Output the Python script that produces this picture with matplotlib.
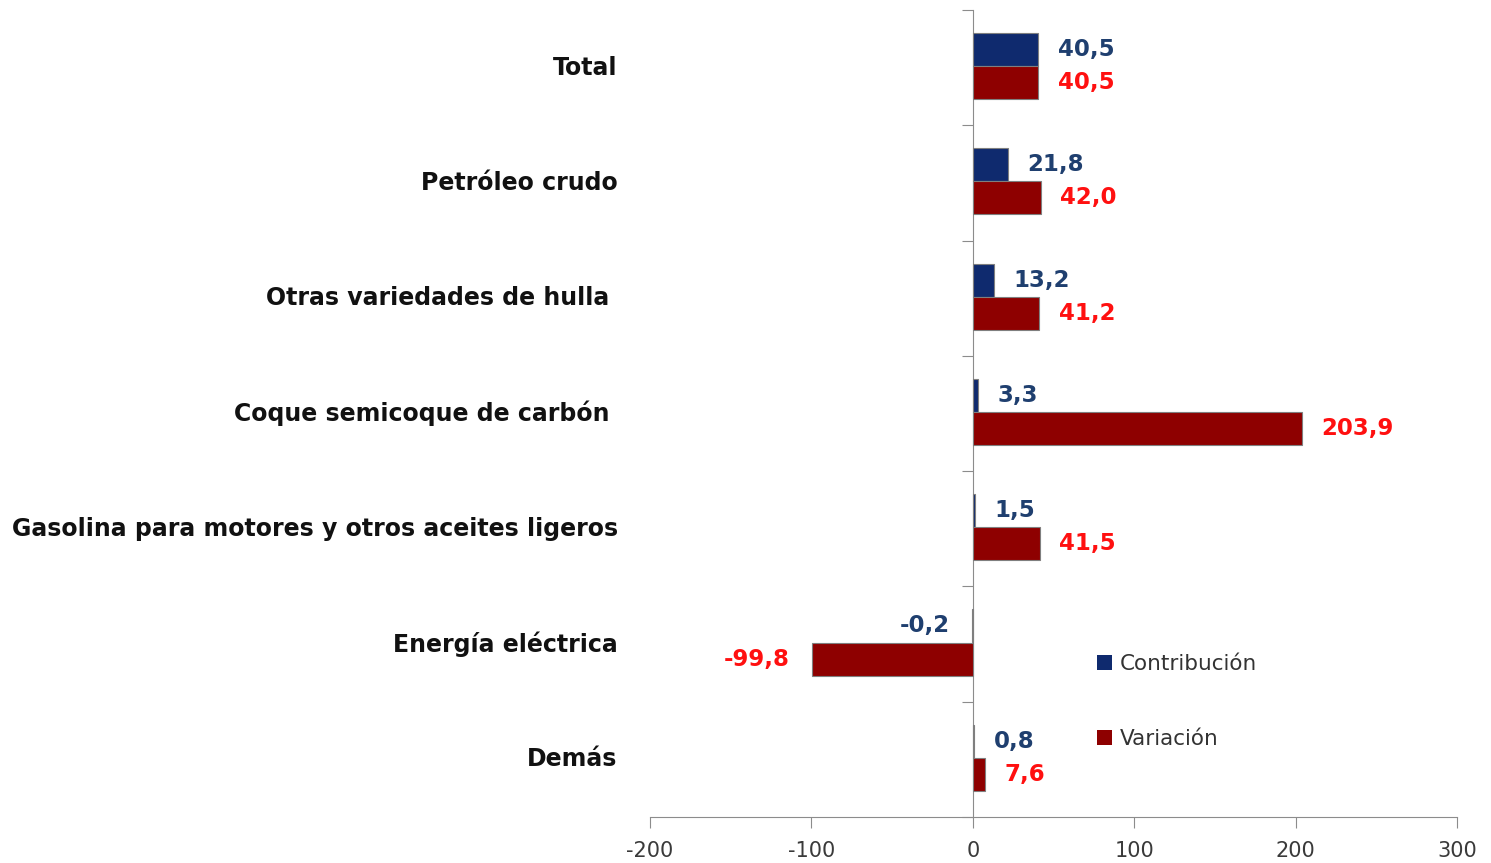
import matplotlib
matplotlib.use("Agg")
import matplotlib.pyplot as plt
from matplotlib.patches import Patch
from matplotlib.transforms import blended_transform_factory
import numpy as np

# ─────────────────────────────────────────────
# Data
# ─────────────────────────────────────────────

categories = [
    "Total",
    "Petróleo crudo",
    "Otras variedades de hulla ",
    "Coque semicoque de carbón ",
    "Gasolina para motores y otros aceites ligeros",
    "Energía eléctrica",
    "Demás",
]
contribucion = [40.5, 21.8, 13.2, 3.3, 1.5, -0.2, 0.8]
variacion = [40.5, 42.0, 41.2, 203.9, 41.5, -99.8, 7.6]
x_ticks = [-200, -100, 0, 100, 200, 300]

BLUE = "#0F2A6E"
RED = "#8E0000"
BLUE_TXT = "#1F3F6F"
RED_TXT = "#FF1010"
AXIS_GRAY = "#8C8C8C"


def fmt(v):
    return f"{v:.1f}".replace(".", ",")


fig = plt.figure(figsize=(14.91, 8.63), dpi=100)
ax = fig.add_axes([650 / 1491, 1 - 817 / 863, 807 / 1491, 807 / 863])

n = len(categories)
centers = np.arange(n)[::-1].astype(float)  # Total on top
h = 0.286

ax.barh(centers + 0.157, contribucion, height=h, color=BLUE,
        edgecolor="#7f7f7f", linewidth=0.8, zorder=3)
ax.barh(centers - 0.13, variacion, height=h, color=RED,
        edgecolor="#7f7f7f", linewidth=0.8, zorder=3)

ax.set_xlim(-200, 300)
ax.set_ylim(-0.5, n - 0.5)

# value labels
for c, vb, vr in zip(centers, contribucion, variacion):
    for v, yy, col in ((vb, c + 0.157, BLUE_TXT), (vr, c - 0.13, RED_TXT)):
        off = 14 if v >= 0 else -16
        ax.annotate(fmt(v), (v, yy),
                    xytext=(off, 0), textcoords="offset points",
                    ha="left" if v >= 0 else "right", va="center",
                    fontsize=16.5, fontweight="bold", color=col)

# category labels, right aligned to the left of the plot area
trans = blended_transform_factory(ax.transAxes, ax.transData)
for c, name in zip(centers, categories):
    ax.text(-0.04, c, name, transform=trans, ha="right", va="center",
            fontsize=17, fontweight="bold", color="#111111")

# axes styling
for s in ("top", "right"):
    ax.spines[s].set_visible(False)
ax.spines["left"].set_position(("data", 0))
ax.spines["left"].set_color(AXIS_GRAY)
ax.spines["bottom"].set_color(AXIS_GRAY)

ax.set_yticks(np.arange(-0.5, n, 1.0))
ax.set_yticklabels([])
ax.tick_params(axis="y", direction="out", length=8, color=AXIS_GRAY)

ax.set_xticks(x_ticks)
ax.set_xticklabels([str(t) for t in x_ticks])
ax.tick_params(axis="x", direction="out", length=8, color=AXIS_GRAY,
               labelsize=15, labelcolor="#3a3a3a", pad=9)

# legend
handles = [Patch(facecolor=BLUE, label="Contribución"),
           Patch(facecolor=RED, label="Variación")]
ax.legend(handles=handles, loc="upper left", bbox_to_anchor=(0.53, 0.226),
          frameon=False, fontsize=15.5, labelcolor="#333333",
          handlelength=0.7, handleheight=0.7, handletextpad=0.35,
          labelspacing=2.55)

fig.savefig("out.png", dpi=100)
